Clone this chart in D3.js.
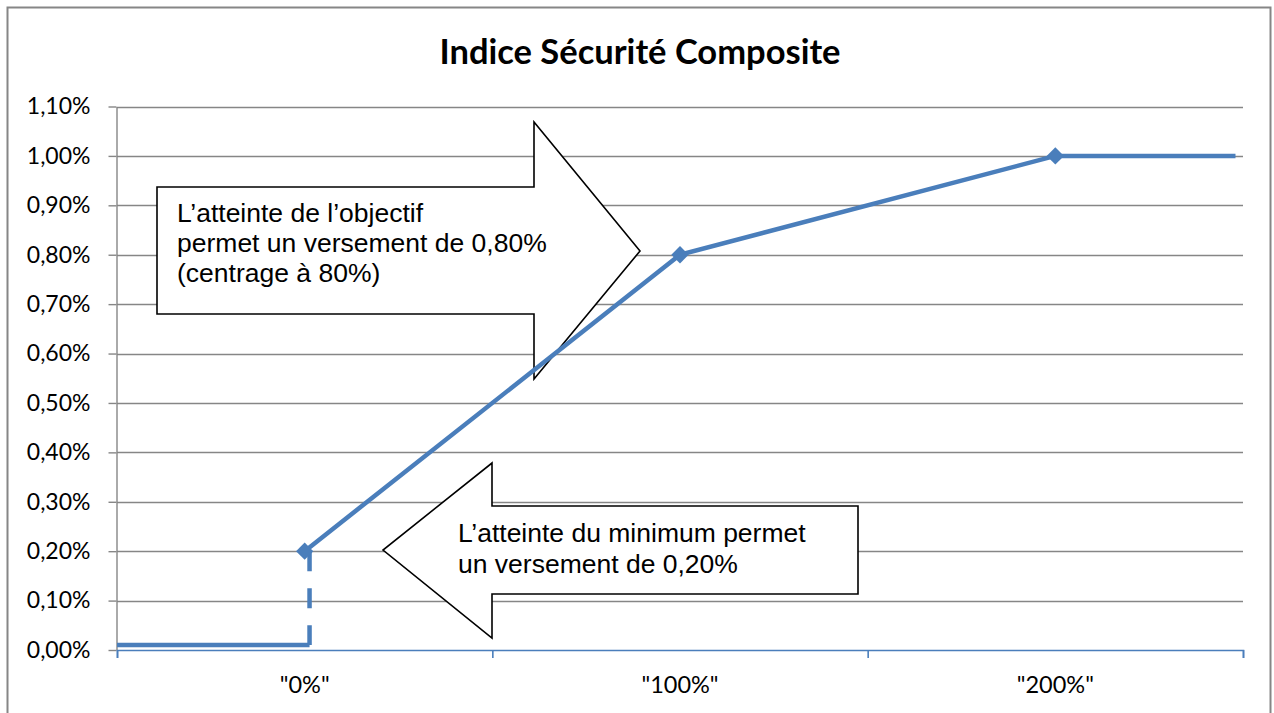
<!DOCTYPE html>
<html>
<head>
<meta charset="utf-8">
<script src="https://cdn.jsdelivr.net/npm/d3@7"></script>
<style>
  body { margin: 0; background: #fff; }
  svg { display: block; }
</style>
</head>
<body>
<div class="canvas"></div>
<script>
// données du graphique
const categories = ['"0%"', '"100%"', '"200%"'];
const versement = [0.20, 0.80, 1.00]; // en %
const yTicks = [0, 0.10, 0.20, 0.30, 0.40, 0.50, 0.60, 0.70, 0.80, 0.90, 1.00, 1.10];
// segments annexes (x en unités de catégorie, y en %)
const plancher = [[0, 0.01], [0.513, 0.01]];
const saut = [[0.513, 0.20], [0.513, 0.01]];
const plafond = [[2.5, 1.00], [2.98, 1.00]];

const titre = 'Indice Sécurité Composite';
const note1 = ["L\u2019atteinte de l\u2019objectif", 'permet un versement de 0,80%', '(centrage à 80%)'];
const note2 = ['L\u2019atteinte du minimum permet', 'un versement de 0,20%'];

const dims = { width: 1274, height: 713 };
const plot = { left: 117, right: 1243, top: 106.5, bottom: 650 };
const bleu = '#4A7EBB';
const gris = '#868686';

const svg = d3.select('.canvas')
    .append('svg')
    .attr('width', dims.width)
    .attr('height', dims.height);

// cadre extérieur
svg.append('rect')
    .attr('x', 7.5).attr('y', 7.5)
    .attr('width', 1263).attr('height', 730)
    .attr('fill', '#fff')
    .attr('stroke', gris)
    .attr('stroke-width', 2);

const x = d3.scaleLinear().domain([0, categories.length]).range([plot.left, plot.right]);
const y = d3.scaleLinear().domain([0, 1.10]).range([plot.bottom, plot.top]);

const locale = d3.formatLocale({ decimal: ',', thousands: ' ', grouping: [3], currency: ['', '€'] });
const fmt = d => locale.format('.2f')(d) + '%';

// titre
svg.append('text')
    .attr('x', 640).attr('y', 64)
    .attr('text-anchor', 'middle')
    .attr('font-family', 'Lato, sans-serif')
    .attr('font-weight', 'bold')
    .attr('font-size', 34.5)
    .text(titre);

// grille horizontale
svg.append('g')
    .selectAll('line')
    .data(yTicks.filter(d => d > 0))
    .enter().append('line')
    .attr('x1', plot.left).attr('x2', plot.right)
    .attr('y1', d => Math.round(y(d)) + 0.5).attr('y2', d => Math.round(y(d)) + 0.5)
    .attr('stroke', gris)
    .attr('stroke-width', 1.4);

// axe y
const yAxis = svg.append('g')
    .attr('transform', `translate(${plot.left - 0.5},0)`)
    .call(d3.axisLeft(y).tickValues(yTicks).tickSize(8).tickSizeOuter(0).tickPadding(18).tickFormat(fmt));
yAxis.select('.domain').attr('stroke', gris).attr('stroke-width', 1.4);
yAxis.selectAll('.tick line').attr('stroke', gris).attr('stroke-width', 1.4);
yAxis.selectAll('.tick text')
    .attr('font-family', 'Lato, sans-serif')
    .attr('font-size', 23)
    .attr('fill', '#000');

// axe x
const xAxis = svg.append('g')
    .attr('transform', `translate(0,${plot.bottom})`)
    .call(d3.axisBottom(x).tickValues(d3.range(categories.length + 1)).tickSize(8).tickFormat(''));
xAxis.select('.domain').attr('stroke', bleu).attr('stroke-width', 1.6);
xAxis.selectAll('.tick line').attr('stroke', bleu).attr('stroke-width', 1.6);

svg.append('g')
    .selectAll('text')
    .data(categories)
    .enter().append('text')
    .attr('x', (d, i) => x(i + 0.5))
    .attr('y', 693)
    .attr('text-anchor', 'middle')
    .attr('font-family', 'Lato, sans-serif')
    .attr('font-size', 23.5)
    .text(d => d);

// flèches d'annotation
const fleches = svg.append('g');
fleches.append('polygon')
    .attr('points', [[157, 187], [534, 187], [534, 122], [640, 251], [534, 379], [534, 314], [157, 314]].join(' '))
    .attr('fill', '#fff').attr('stroke', '#000').attr('stroke-width', 1.6);
fleches.append('polygon')
    .attr('points', [[858, 506], [492, 506], [492, 463], [383, 550], [492, 638], [492, 594], [858, 594]].join(' '))
    .attr('fill', '#fff').attr('stroke', '#000').attr('stroke-width', 1.6);

const ecrire = (lignes, x0, y0, pas) => {
    fleches.append('g')
        .selectAll('text')
        .data(lignes)
        .enter().append('text')
        .attr('x', x0)
        .attr('y', (d, i) => y0 + i * pas)
        .attr('font-family', '"Liberation Sans", Arial, sans-serif')
        .attr('font-size', 26.5)
        .text(d => d);
};
ecrire(note1, 177, 222, 30);
ecrire(note2, 458, 542, 31);

// séries
const line = d3.line().x(d => x(d[0])).y(d => y(d[1]));
const principal = versement.map((v, i) => [i + 0.5, v]);

svg.append('path')
    .datum(plancher)
    .attr('d', line)
    .attr('fill', 'none').attr('stroke', bleu).attr('stroke-width', 4.5);

svg.append('path')
    .datum(saut)
    .attr('d', line)
    .attr('fill', 'none').attr('stroke', bleu).attr('stroke-width', 4.5)
    .attr('stroke-dasharray', '20,17');

svg.append('path')
    .datum(principal)
    .attr('d', line)
    .attr('fill', 'none').attr('stroke', bleu).attr('stroke-width', 4.5)
    .attr('stroke-linejoin', 'round');

svg.append('path')
    .datum(plafond)
    .attr('d', line)
    .attr('fill', 'none').attr('stroke', bleu).attr('stroke-width', 4.5);

// marqueurs losange
svg.append('g')
    .selectAll('path')
    .data(principal)
    .enter().append('path')
    .attr('d', d3.symbol().type(d3.symbolSquare).size(150))
    .attr('transform', d => `translate(${x(d[0])},${y(d[1])}) rotate(45)`)
    .attr('fill', bleu);
</script>
</body>
</html>
